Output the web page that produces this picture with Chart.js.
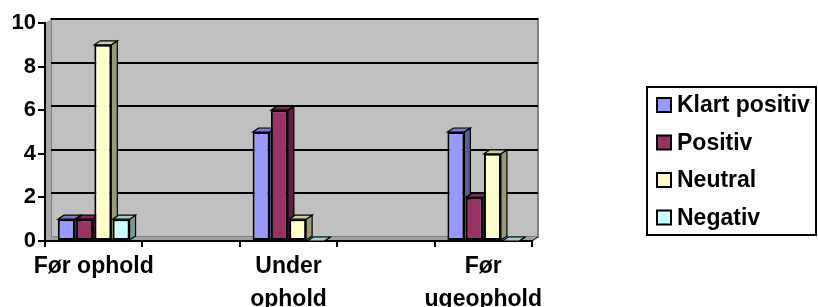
<!DOCTYPE html>
<html>
<head>
<meta charset="utf-8">
<script src="https://cdn.jsdelivr.net/npm/chart.js@4"></script>
<style>
  body { margin: 0; background: #fff; }
  canvas { display: block; }
</style>
</head>
<body>
<canvas id="chart" width="818" height="307"></canvas>
<script>
const categories = ['Før ophold', '', ['Under', 'ophold'], '', ['Før', 'ugeophold']];
const seriesNames = ['Klart positiv', 'Positiv', 'Neutral', 'Negativ'];
const klartPositiv = [1, null, 5, null, 5];
const positiv = [1, null, 6, null, 2];
const neutral = [9, null, 1, null, 4];
const negativ = [1, null, 0, null, 0];
const yTicks = [0, 2, 4, 6, 8, 10];

const colors = ['#9999FF', '#993366', '#FFFFCC', '#CCFFFF'];
const FONT = 'Arial, "Liberation Sans", sans-serif';
const DX = 6, DY = 4;

function shade(hex, f) {
  const n = parseInt(hex.slice(1), 16);
  const r = Math.round(((n >> 16) & 255) * f);
  const g = Math.round(((n >> 8) & 255) * f);
  const b = Math.round((n & 255) * f);
  return `rgb(${r},${g},${b})`;
}

// back wall, side wall, floor and gridlines of the 3d box
const walls = {
  id: 'walls',
  beforeDraw(chart) {
    const {ctx, chartArea: a, scales: {y}} = chart;
    ctx.save();
    ctx.fillStyle = '#C0C0C0';
    ctx.fillRect(a.left + DX, a.top - DY, a.right - a.left, a.bottom - a.top);
    ctx.strokeStyle = '#808080';
    ctx.lineWidth = 2;
    ctx.strokeRect(a.left + DX, a.top - DY, a.right - a.left, a.bottom - a.top);
    // left wall
    ctx.fillStyle = '#A8A8A8';
    ctx.beginPath();
    ctx.moveTo(a.left, a.bottom);
    ctx.lineTo(a.left + DX, a.bottom - DY);
    ctx.lineTo(a.left + DX, a.top - DY);
    ctx.lineTo(a.left, a.top);
    ctx.closePath();
    ctx.fill();
    // floor
    ctx.fillStyle = '#A0A0A0';
    ctx.beginPath();
    ctx.moveTo(a.left, a.bottom);
    ctx.lineTo(a.right, a.bottom);
    ctx.lineTo(a.right + DX, a.bottom - DY);
    ctx.lineTo(a.left + DX, a.bottom - DY);
    ctx.closePath();
    ctx.fill();
    ctx.strokeStyle = '#000';
    ctx.lineWidth = 1;
    ctx.beginPath();
    ctx.moveTo(a.right, a.bottom);
    ctx.lineTo(a.right + DX, a.bottom - DY);
    ctx.stroke();
    // gridlines on back wall
    ctx.lineWidth = 2;
    yTicks.slice(1).forEach(v => {
      const py = Math.round(y.getPixelForValue(v) - DY);
      ctx.beginPath();
      ctx.moveTo(a.left + DX, py);
      ctx.lineTo(a.right + DX, py);
      ctx.stroke();
    });
    ctx.restore();
  }
};

// top and side faces of every bar
const bars3d = {
  id: 'bars3d',
  beforeDatasetsDraw(chart) {
    const ctx = chart.ctx;
    ctx.save();
    ctx.strokeStyle = '#000';
    ctx.lineWidth = 1.2;
    chart.data.datasets.forEach((ds, di) => {
      chart.getDatasetMeta(di).data.forEach((bar, i) => {
        if (ds.data[i] == null) return;
        const l = bar.x - bar.width / 2, r = bar.x + bar.width / 2;
        const t = bar.y, b = bar.base;
        ctx.fillStyle = shade(colors[di], 0.6);
        ctx.beginPath();
        ctx.moveTo(r, t); ctx.lineTo(r + DX, t - DY); ctx.lineTo(r + DX, b - DY); ctx.lineTo(r, b);
        ctx.closePath(); ctx.fill(); ctx.stroke();
        ctx.fillStyle = shade(colors[di], 0.8);
        ctx.beginPath();
        ctx.moveTo(l, t); ctx.lineTo(l + DX, t - DY); ctx.lineTo(r + DX, t - DY); ctx.lineTo(r, t);
        ctx.closePath(); ctx.fill(); ctx.stroke();
      });
    });
    ctx.restore();
  }
};

const boxLegend = {
  id: 'boxLegend',
  afterDraw(chart) {
    const ctx = chart.ctx;
    ctx.save();
    ctx.strokeStyle = '#000';
    ctx.lineWidth = 2;
    ctx.strokeRect(647, 87, 169, 148);
    ctx.font = `bold 23px ${FONT}`;
    ctx.textBaseline = 'middle';
    chart.data.datasets.forEach((ds, i) => {
      const cy = 105 + i * 37.5;
      ctx.fillStyle = ds.backgroundColor;
      ctx.fillRect(657, cy - 7, 14, 14);
      ctx.lineWidth = 2;
      ctx.strokeRect(657, cy - 7, 14, 14);
      ctx.fillStyle = '#000';
      ctx.fillText(ds.label, 677, cy + 1);
    });
    ctx.restore();
  }
};

const series = [klartPositiv, positiv, neutral, negativ];

new Chart(document.getElementById('chart'), {
  type: 'bar',
  data: {
    labels: categories,
    datasets: series.map((d, i) => ({
      label: seriesNames[i],
      data: d,
      backgroundColor: colors[i],
      borderColor: '#000',
      borderWidth: 2,
      borderSkipped: false,
      categoryPercentage: 0.75,
      barPercentage: 0.93
    }))
  },
  options: {
    responsive: false,
    animation: false,
    layout: { padding: { top: 23, right: 286, left: 0, bottom: 0 } },
    plugins: { legend: { display: false }, tooltip: { enabled: false } },
    scales: {
      x: {
        afterFit: s => { s.height = 66; },
        grid: { drawOnChartArea: false, drawTicks: true, tickLength: 6, color: '#000', lineWidth: 2 },
        border: { color: '#000', width: 2 },
        ticks: {
          color: '#000', maxRotation: 0, autoSkip: false, padding: 4,
          font: { family: FONT, size: 23, weight: 'bold', lineHeight: 1.4 }
        }
      },
      y: {
        min: 0, max: 10,
        afterFit: s => { s.width = 45; },
        afterBuildTicks: s => { s.ticks = yTicks.map(v => ({ value: v })); },
        grid: { drawOnChartArea: false, drawTicks: true, tickLength: 7, color: '#000', lineWidth: 2 },
        border: { color: '#000', width: 2 },
        ticks: {
          color: '#000', padding: 2,
          font: { family: FONT, size: 22, weight: 'bold' }
        }
      }
    }
  },
  plugins: [walls, bars3d, boxLegend]
});
</script>
</body>
</html>
